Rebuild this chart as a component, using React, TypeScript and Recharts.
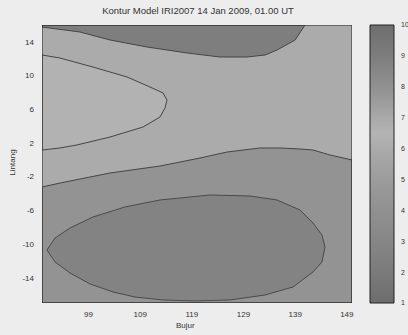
import React from 'react';
import {
  ScatterChart,
  Scatter,
  XAxis,
  YAxis,
  BarChart,
  Bar,
} from 'recharts';

// contour regions (bujur, lintang)
const plotFrame = [
  { x: 90, y: 16 }, { x: 150, y: 16 }, { x: 150, y: -17 }, { x: 90, y: -17 },
];

const topRegion = [
  { x: 90, y: 16 }, { x: 90, y: 15.76 }, { x: 97.35, y: 15.17 }, { x: 103.16, y: 14.22 },
  { x: 110.32, y: 13.39 }, { x: 118.06, y: 12.68 }, { x: 124.45, y: 12.2 }, { x: 129.68, y: 12.2 },
  { x: 133.2, y: 12.44 }, { x: 135.5, y: 13.03 }, { x: 139, y: 14.22 }, { x: 140.9, y: 16 },
];

const tongueRegion = [
  { x: 90, y: 12.44 }, { x: 93.48, y: 12.08 }, { x: 99.87, y: 11.01 }, { x: 106.45, y: 9.83 },
  { x: 110.9, y: 8.64 }, { x: 113.42, y: 7.93 }, { x: 114.19, y: 7.1 }, { x: 113.81, y: 6.15 },
  { x: 112.84, y: 5.08 }, { x: 109.55, y: 3.89 }, { x: 103.16, y: 2.7 }, { x: 96.77, y: 1.76 },
  { x: 93.48, y: 1.4 }, { x: 90, y: 1.16 },
];

const lowerRegion = [
  { x: 90, y: -3.23 }, { x: 93.48, y: -2.76 }, { x: 103.16, y: -1.57 }, { x: 112.84, y: -0.74 },
  { x: 120.58, y: 0.21 }, { x: 125.81, y: 0.92 }, { x: 132.19, y: 1.4 }, { x: 136.06, y: 1.4 },
  { x: 139.94, y: 1.28 }, { x: 142.45, y: 1.16 }, { x: 145.74, y: 0.57 }, { x: 150, y: -0.02 },
  { x: 150, y: -17 }, { x: 90, y: -17 },
];

const innerRegion = [
  { x: 90.97, y: -10.71 }, { x: 92.52, y: -9.28 }, { x: 95.42, y: -8.1 }, { x: 99.87, y: -6.79 },
  { x: 106.06, y: -5.6 }, { x: 112.84, y: -4.77 }, { x: 122.52, y: -4.18 }, { x: 130.26, y: -4.3 },
  { x: 135.48, y: -4.77 }, { x: 139.94, y: -5.96 }, { x: 142.45, y: -7.5 }, { x: 144.19, y: -8.93 },
  { x: 144.77, y: -10.35 }, { x: 144.19, y: -12.13 }, { x: 142.45, y: -13.32 }, { x: 138.58, y: -15.1 },
  { x: 133.16, y: -16.05 }, { x: 126.39, y: -16.64 }, { x: 119.61, y: -16.76 }, { x: 113.42, y: -16.64 },
  { x: 108.0, y: -16.29 }, { x: 103.74, y: -15.69 }, { x: 99.29, y: -14.74 }, { x: 95.42, y: -13.44 },
  { x: 92.52, y: -12.13 },
];

const xTicks = [99, 109, 119, 129, 139, 149];
const yTicks = [14, 10, 6, 2, -2, -6, -10, -14];
const levelTicks = [1, 2, 3, 4, 5, 6, 7, 8, 9, 10];
const colorbarData = [{ name: 'level', value: 10 }];

const FONT = '"Liberation Sans", Arial, sans-serif';
const tickStyle = { fontSize: 8, fill: '#333', fontFamily: FONT };
const noDot = () => <g />;

const regions = [
  { key: 'band', data: plotFrame, fill: '#ababab', stroke: 'none' },
  { key: 'top', data: topRegion, fill: '#7e7e7e', stroke: '#454545' },
  { key: 'tongue', data: tongueRegion, fill: '#b2b2b2', stroke: '#454545' },
  { key: 'lower', data: lowerRegion, fill: '#939393', stroke: '#454545' },
  { key: 'inner', data: innerRegion, fill: '#838383', stroke: '#4a4a4a' },
  { key: 'frame', data: plotFrame, fill: 'none', stroke: '#222' },
];

export default function App() {
  return (
    <div style={{ position: 'absolute', left: 0, top: 0, width: 408, height: 335, background: '#ededed', fontFamily: FONT, overflow: 'hidden' }}>
      <div style={{ position: 'absolute', top: 5, left: 0, width: 396, textAlign: 'center', fontSize: 9.5, lineHeight: '11px', color: '#333' }}>
        Kontur Model IRI2007 14 Jan 2009, 01.00 UT
      </div>

      <div style={{ position: 'absolute', left: 0, top: 0 }}>
        <ScatterChart width={360} height={335} margin={{ top: 25, right: 8, bottom: 0, left: 12 }}>
          <XAxis
            type="number"
            dataKey="x"
            domain={[90, 150]}
            allowDataOverflow
            ticks={xTicks}
            tick={tickStyle}
            tickLine={false}
            axisLine={false}
            height={32}
          />
          <YAxis
            type="number"
            dataKey="y"
            domain={[-17, 16]}
            allowDataOverflow
            ticks={yTicks}
            tick={tickStyle}
            tickLine={false}
            axisLine={false}
            width={30}
          />
          {regions.map(r => (
            <Scatter
              key={r.key}
              data={r.data}
              shape={noDot}
              line={{ fill: r.fill, stroke: r.stroke, strokeWidth: 1 }}
              lineJointType="linearClosed"
              isAnimationActive={false}
            />
          ))}
        </ScatterChart>
      </div>

      <div style={{ position: 'absolute', left: 176, top: 321, fontSize: 8, color: '#333' }}>Bujur</div>
      <div style={{ position: 'absolute', left: -8, top: 158, fontSize: 8, color: '#333', transform: 'rotate(-90deg)', width: 40, textAlign: 'center' }}>
        Lintang
      </div>

      <div style={{ position: 'absolute', left: 352, top: 0 }}>
        <BarChart width={56} height={335} data={colorbarData} margin={{ top: 25, right: 0, bottom: 32, left: 18 }} barCategoryGap={0}>
          <defs>
            <linearGradient id="jetGray" x1="0" y1="0" x2="0" y2="1">
              <stop offset="0" stopColor="#6e6e6e" />
              <stop offset="0.11" stopColor="#7d7d7d" />
              <stop offset="0.22" stopColor="#909090" />
              <stop offset="0.33" stopColor="#a8a8a8" />
              <stop offset="0.39" stopColor="#b4b4b4" />
              <stop offset="0.45" stopColor="#aaaaaa" />
              <stop offset="0.56" stopColor="#9b9b9b" />
              <stop offset="0.67" stopColor="#909090" />
              <stop offset="0.78" stopColor="#868686" />
              <stop offset="0.89" stopColor="#7b7b7b" />
              <stop offset="1" stopColor="#6c6c6c" />
            </linearGradient>
          </defs>
          <XAxis dataKey="name" hide />
          <YAxis
            orientation="right"
            type="number"
            domain={[1, 10]}
            ticks={levelTicks}
            interval={0}
            tick={{ ...tickStyle, fontSize: 7 }}
            tickLine={false}
            tickMargin={1}
            axisLine={false}
            width={14}
          />
          <Bar dataKey="value" fill="url(#jetGray)" stroke="#222" isAnimationActive={false} />
        </BarChart>
      </div>
    </div>
  );
}
